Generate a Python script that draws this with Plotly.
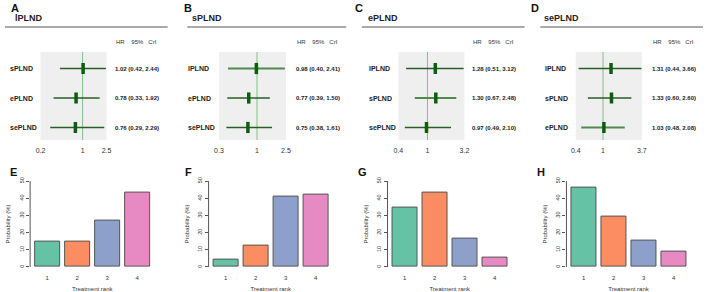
import math
import plotly.graph_objects as go

# ---------------- data ----------------
reference_trts = ["lPLND", "sPLND", "ePLND", "sePLND"]
top_letters = ["A", "B", "C", "D"]
comparators = [["sPLND", "ePLND", "sePLND"],
               ["lPLND", "ePLND", "sePLND"],
               ["lPLND", "sPLND", "sePLND"],
               ["lPLND", "sPLND", "ePLND"]]
hr_est = [[1.02, 0.78, 0.76], [0.98, 0.77, 0.75], [1.28, 1.30, 0.97], [1.31, 1.33, 1.03]]
hr_lo = [[0.42, 0.33, 0.29], [0.40, 0.39, 0.38], [0.51, 0.67, 0.49], [0.44, 0.60, 0.48]]
hr_hi = [[2.44, 1.92, 2.29], [2.41, 1.50, 1.61], [3.12, 2.48, 2.10], [3.66, 2.60, 2.08]]
axis_min = [0.2, 0.3, 0.4, 0.4]
axis_max = [2.5, 2.5, 3.2, 3.7]
axis_tick_text = [["0.2", "1", "2.5"], ["0.3", "1", "2.5"], ["0.4", "1", "3.2"], ["0.4", "1", "3.7"]]

bottom_letters = ["E", "F", "G", "H"]
ranks = [1, 2, 3, 4]
prob_E = [15.0, 14.5, 27.0, 43.5]
prob_F = [4.5, 12.5, 41.0, 42.0]
prob_G = [34.5, 43.5, 16.3, 5.7]
prob_H = [46.0, 29.2, 15.6, 9.2]
rank_probs = [prob_E, prob_F, prob_G, prob_H]
prob_ticks = [0, 10, 20, 30, 40, 50]

# ---------------- layout / style ----------------
W, H = 708, 292
FONT = "Liberation Sans, Arial, sans-serif"
bar_colors = ["#66C2A5", "#FC8D62", "#8DA0CB", "#E78AC3"]
dark_green = "#245F24"
light_green = "#4F8A4F"
point_green = "#0B5E0B"
ci_light = [[False, False, False], [True, False, False], [False, True, False], [False, False, True]]

forest_x_px = [(36, 103), (217, 285), (399, 466), (579, 646)]
forest_y_px = (52, 140)
label_x_px = [3, 184, 367, 546]
hr_x_px = [110, 293, 472, 654]
title_x_px = [8, 188, 366, 545]
letter_x_px = [4, 180, 353, 532]
rule_x_px = [(0, 165), (185, 346), (362, 527), (543, 708)]
bar_left_px = [25.5, 206.5, 388, 569.5]
bar_w_px = 126
bar_y_px = (177.6, 270.4)
bar_letter_x_px = [3, 181, 356, 538]


def px(x):
    return x / W


def py(y):
    return 1 - y / H


def names(n):
    s = "" if n == 1 else str(n)
    return f"xaxis{s}", f"yaxis{s}", f"x{s}", f"y{s}"


fig = go.Figure()
layout = dict(
    width=W, height=H, margin=dict(l=0, r=0, t=0, b=0),
    paper_bgcolor="white", plot_bgcolor="rgba(0,0,0,0)",
    showlegend=False, font=dict(family=FONT, color="#222"),
)
shapes = []
annotations = []

row_y = [3, 2, 1]
for i in range(4):
    xa, ya, xr, yr = names(i + 1)
    x0, x1 = forest_x_px[i]
    layout[xa] = dict(
        domain=[px(x0), px(x1)], type="log",
        range=[math.log10(axis_min[i]), math.log10(axis_max[i])],
        tickvals=[axis_min[i], 1, axis_max[i]], ticktext=axis_tick_text[i],
        ticks="outside", ticklen=4, tickcolor="rgba(0,0,0,0)",
        tickfont=dict(size=7, color="#333"), showgrid=False, zeroline=False,
        showline=False, anchor=yr, fixedrange=True,
    )
    layout[ya] = dict(
        domain=[py(forest_y_px[1]), py(forest_y_px[0])], range=[0.576, 3.56],
        showticklabels=False, ticks="", showgrid=False, zeroline=False,
        showline=False, anchor=xr, fixedrange=True,
    )
    # grey panel background
    shapes.append(dict(type="rect", xref=f"{xr} domain", yref=f"{yr} domain",
                       x0=0, x1=1, y0=0, y1=1, fillcolor="#EFEFEF",
                       line=dict(width=0), layer="below"))
    # line of no effect
    shapes.append(dict(type="line", xref=xr, yref=f"{yr} domain",
                       x0=1, x1=1, y0=0, y1=1,
                       line=dict(color="#86BF86", width=1), layer="below"))
    for j in range(3):
        col = light_green if ci_light[i][j] else dark_green
        lw = 2 if ci_light[i][j] else 1.5
        fig.add_trace(go.Scatter(
            x=[hr_lo[i][j], hr_hi[i][j]], y=[row_y[j], row_y[j]],
            mode="lines", line=dict(color=col, width=lw),
            xaxis=xr, yaxis=yr, hoverinfo="skip"))
        fig.add_trace(go.Scatter(
            x=[hr_est[i][j]], y=[row_y[j]], mode="markers",
            marker=dict(symbol="line-ns-open", size=8, color=point_green,
                        line=dict(color=point_green, width=3.5)),
            xaxis=xr, yaxis=yr, hoverinfo="skip"))
        annotations.append(dict(
            x=px(label_x_px[i]), xref="paper", y=row_y[j], yref=yr,
            text=f"<b>{comparators[i][j]}</b>", showarrow=False,
            xanchor="left", yanchor="middle", font=dict(size=7, color="#222")))
        annotations.append(dict(
            x=px(hr_x_px[i]), xref="paper", y=row_y[j], yref=yr,
            text=f"<b>{hr_est[i][j]:.2f} ({hr_lo[i][j]:.2f}, {hr_hi[i][j]:.2f})</b>",
            showarrow=False, xanchor="left", yanchor="middle",
            font=dict(size=6, color="#222")))
    annotations.append(dict(
        x=px(hr_x_px[i] + 1), xref="paper", y=py(42), yref="paper",
        text="HR\u00a0\u00a0\u00a0 95%\u00a0\u00a0 CrI", showarrow=False,
        xanchor="left", yanchor="middle", font=dict(size=6, color="#333")))
    annotations.append(dict(
        x=px(title_x_px[i]), xref="paper", y=py(18), yref="paper",
        text=f"<b>{reference_trts[i]}</b>", showarrow=False,
        xanchor="left", yanchor="middle", font=dict(size=9, color="#222")))
    annotations.append(dict(
        x=px(letter_x_px[i]), xref="paper", y=py(8), yref="paper",
        text=f"<b>{top_letters[i]}</b>", showarrow=False,
        xanchor="left", yanchor="middle", font=dict(size=11, color="#111")))
    r0, r1 = rule_x_px[i]
    shapes.append(dict(type="line", xref="paper", yref="paper",
                       x0=px(r0), x1=px(r1), y0=py(27), y1=py(27),
                       line=dict(color="#555", width=1)))

# ---------------- rank probability bars ----------------
for i in range(4):
    xa, ya, xr, yr = names(i + 5)
    fig.add_trace(go.Bar(
        x=ranks, y=rank_probs[i], width=1 / 1.2,
        marker=dict(color=bar_colors, line=dict(color="#555", width=1)),
        xaxis=xr, yaxis=yr, hoverinfo="skip"))
    xl = bar_left_px[i]
    layout[xa] = dict(
        domain=[px(xl), px(xl + bar_w_px)], range=[0.43, 4.57],
        tickvals=ranks, ticktext=[str(r) for r in ranks],
        ticks="outside", ticklen=1, tickcolor="rgba(0,0,0,0)",
        tickfont=dict(size=6, color="#333"), showgrid=False, zeroline=False,
        showline=False, anchor=yr, fixedrange=True,
        title=dict(text="Treatment rank", font=dict(size=6, color="#333"), standoff=7),
        automargin=False,
    )
    layout[ya] = dict(
        domain=[py(bar_y_px[1]), py(bar_y_px[0])], range=[-2, 52],
        tickvals=prob_ticks, ticks="outside", ticklen=3, tickcolor="#555",
        tickangle=-90, tickfont=dict(size=5.5, color="#333"),
        showgrid=False, zeroline=False, showline=False, anchor=xr, fixedrange=True,
        title=dict(text="Probability (%)", font=dict(size=6, color="#333"), standoff=7),
        automargin=False,
    )
    shapes.append(dict(type="line", xref=f"{xr} domain", yref=yr,
                       x0=0, x1=0, y0=prob_ticks[0], y1=prob_ticks[-1],
                       line=dict(color="#555", width=1)))
    annotations.append(dict(
        x=px(bar_letter_x_px[i]), xref="paper", y=py(172), yref="paper",
        text=f"<b>{bottom_letters[i]}</b>", showarrow=False,
        xanchor="left", yanchor="middle", font=dict(size=11, color="#111")))

layout["shapes"] = shapes
layout["annotations"] = annotations
layout["bargap"] = 0
fig.update_layout(**layout)
fig.write_html(
    "out.html",
    config={"displayModeBar": False},
    post_script="document.body.style.margin='0';document.body.style.padding='0';",
)
